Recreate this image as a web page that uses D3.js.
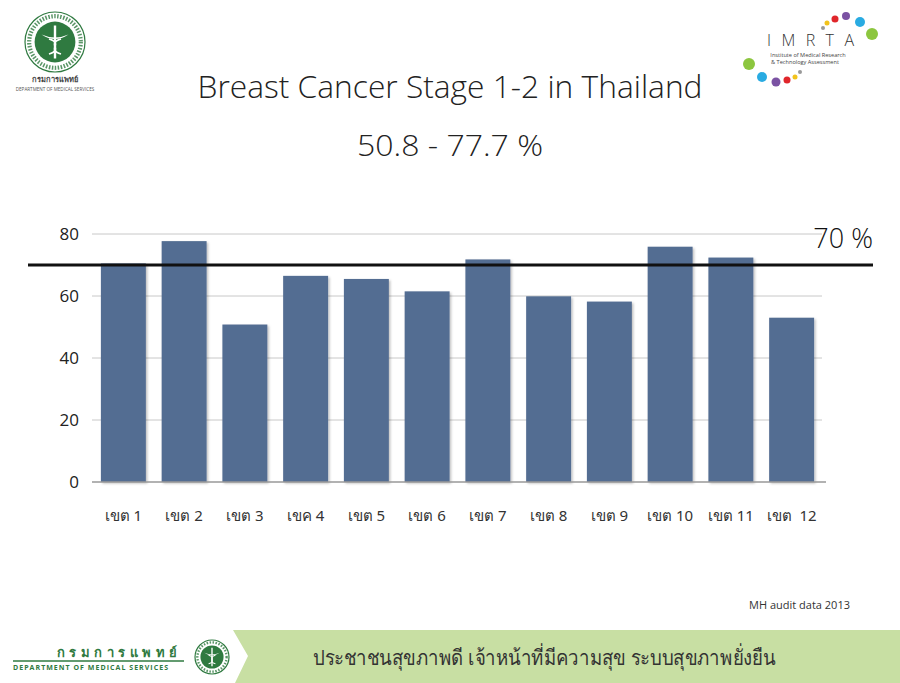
<!DOCTYPE html>
<html>
<head>
<meta charset="utf-8">
<script src="https://cdn.jsdelivr.net/npm/d3@7"></script>
<style>
  body { margin: 0; background: #fff; }
  svg { display: block; font-family: "Open Sans", "Noto Sans", sans-serif; }
  .thai { font-family: "Noto Sans", "DejaVu Sans", sans-serif; }
</style>
</head>
<body>
<svg id="chart" width="900" height="683"></svg>
<script>
// data
const regions = ["เขต 1", "เขต 2", "เขต 3", "เขค 4", "เขต 5", "เขต 6",
                 "เขต 7", "เขต 8", "เขต 9", "เขต 10", "เขต 11", "เขต  12"];
const stage12 = [70.5, 77.7, 50.8, 66.5, 65.5, 61.5, 71.8, 59.9, 58.2, 75.9, 72.4, 53.0];
const yTicks = [0, 20, 40, 60, 80];
const target = 70;

const title = "Breast Cancer Stage 1-2 in Thailand";
const subtitle = "50.8 - 77.7 %";
const footerText = "ประชาชนสุขภาพดี เจ้าหน้าที่มีความสุข ระบบสุขภาพยั่งยืน";

const svg = d3.select("#chart");

// scales
const x = d3.scaleBand().domain(regions).range([93, 822]).paddingInner(0.26).paddingOuter(0.13);
const y = d3.scaleLinear().domain([0, 80]).range([482, 234]);

// titles
svg.append("text").attr("x", 450).attr("y", 98).attr("text-anchor", "middle")
  .attr("font-size", 31.5).attr("font-weight", 300).attr("fill", "#222")
  .attr("textLength", 505).attr("lengthAdjust", "spacingAndGlyphs").text(title);
svg.append("text").attr("x", 450).attr("y", 156).attr("text-anchor", "middle")
  .attr("font-size", 30).attr("font-weight", 300).attr("fill", "#222")
  .attr("textLength", 186).attr("lengthAdjust", "spacingAndGlyphs").text(subtitle);

// gridlines
svg.append("g").selectAll("line").data(yTicks.filter(d => d > 0)).enter().append("line")
  .attr("x1", 92).attr("x2", 822)
  .attr("y1", d => y(d)).attr("y2", d => y(d))
  .attr("stroke", "#c8c8c8").attr("stroke-width", 1);

// y axis labels
svg.append("g").selectAll("text").data(yTicks).enter().append("text")
  .attr("x", 79).attr("y", d => y(d) + 6).attr("text-anchor", "end")
  .attr("font-size", 17).attr("fill", "#222").text(d => d);

// bars
const defs = svg.append("defs");
const shadow = defs.append("filter").attr("id", "shadow").attr("x", "-10%").attr("y", "-10%")
  .attr("width", "130%").attr("height", "130%");
shadow.append("feDropShadow").attr("dx", 1.5).attr("dy", 1.5).attr("stdDeviation", 1.2)
  .attr("flood-color", "#000").attr("flood-opacity", 0.25);

svg.append("g").selectAll("rect").data(stage12).enter().append("rect")
  .attr("x", (d, i) => x(regions[i]))
  .attr("y", d => y(d))
  .attr("width", x.bandwidth())
  .attr("height", d => y(0) - y(d))
  .attr("fill", "#536d92")
  .attr("filter", "url(#shadow)");

// baseline
svg.append("line").attr("x1", 92).attr("x2", 826).attr("y1", y(0)).attr("y2", y(0))
  .attr("stroke", "#999").attr("stroke-width", 1.5);

// category labels
svg.append("g").selectAll("text").data(regions).enter().append("text")
  .attr("class", "thai")
  .attr("x", d => x(d) + x.bandwidth() / 2).attr("y", 521)
  .attr("text-anchor", "middle").attr("font-size", 15).attr("fill", "#333")
  .style("white-space", "pre").text(d => d);

// 70% target line
svg.append("line").attr("x1", 28).attr("x2", 873).attr("y1", y(target)).attr("y2", y(target))
  .attr("stroke", "#111").attr("stroke-width", 3);
svg.append("text").attr("x", 873).attr("y", 248).attr("text-anchor", "end")
  .attr("font-size", 27).attr("font-weight", 300).attr("fill", "#111").text(target + " %");

// source note
svg.append("text").attr("x", 850).attr("y", 609).attr("text-anchor", "end")
  .attr("font-size", 11).attr("fill", "#333").text("MH audit data 2013");

// footer band
svg.append("path").attr("d", "M233,630 L900,630 L900,683 L235,683 L248,656 Z").attr("fill", "#c8dfa3");
svg.append("text").attr("class", "thai").attr("x", 544).attr("y", 665).attr("text-anchor", "middle")
  .attr("font-size", 21).attr("font-weight", 300).attr("fill", "#333")
  .attr("textLength", 462).attr("lengthAdjust", "spacingAndGlyphs").text(footerText);

// footer left logo
const green = "#2f7a40";
svg.append("text").attr("class", "thai").attr("x", 57).attr("y", 657)
  .attr("font-size", 13).attr("font-weight", 700).attr("fill", green)
  .attr("textLength", 120).text("กรมการแพทย์");
svg.append("line").attr("x1", 13).attr("x2", 184).attr("y1", 661).attr("y2", 661)
  .attr("stroke", green).attr("stroke-width", 1.6);
svg.append("text").attr("x", 13).attr("y", 670).attr("font-size", 7).attr("font-weight", 700)
  .attr("fill", green).attr("textLength", 155).text("DEPARTMENT OF MEDICAL SERVICES");

function seal(cx, cy, r) {
  const g = svg.append("g").attr("transform", `translate(${cx},${cy})`);
  g.append("circle").attr("r", r).attr("fill", "#fff").attr("stroke", green).attr("stroke-width", 1.2);
  g.append("circle").attr("r", r * 0.86).attr("fill", "none").attr("stroke", green)
    .attr("stroke-width", r * 0.14).attr("stroke-dasharray", "1.5 1.5").attr("opacity", 0.8);
  g.append("circle").attr("r", r * 0.68).attr("fill", green);
  // simple caduceus
  g.append("line").attr("x1", 0).attr("x2", 0).attr("y1", -r * 0.55).attr("y2", r * 0.55)
    .attr("stroke", "#fff").attr("stroke-width", r * 0.08);
  g.append("path").attr("d", `M${-r * 0.45},${-r * 0.25} Q0,${-r * 0.05} ${r * 0.45},${-r * 0.25} Q0,${r * 0.05} ${-r * 0.45},${-r * 0.25}`)
    .attr("fill", "#fff");
  g.append("path").attr("d", `M${-r * 0.2},${-r * 0.1} C${r * 0.3},${r * 0.05} ${-r * 0.3},${r * 0.25} ${r * 0.2},${r * 0.4}`)
    .attr("fill", "none").attr("stroke", "#fff").attr("stroke-width", r * 0.06);
  g.append("path").attr("d", `M${r * 0.2},${-r * 0.1} C${-r * 0.3},${r * 0.05} ${r * 0.3},${r * 0.25} ${-r * 0.2},${r * 0.4}`)
    .attr("fill", "none").attr("stroke", "#fff").attr("stroke-width", r * 0.06);
  return g;
}
seal(212, 657, 17);

// top-left logo
seal(55, 42, 30);
svg.append("text").attr("class", "thai").attr("x", 55).attr("y", 82).attr("text-anchor", "middle")
  .attr("font-size", 7.5).attr("font-weight", 700).attr("fill", "#444").text("กรมการแพทย์");
svg.append("text").attr("x", 55).attr("y", 91).attr("text-anchor", "middle")
  .attr("font-size", 4.6).attr("fill", "#555").text("DEPARTMENT OF MEDICAL SERVICES");

// IMRTA logo
const dots = [
  [749, 64, 6, "#8cc63f"], [762, 77, 5, "#29abe2"], [776, 82, 4.5, "#7b52a3"],
  [787, 80, 3.5, "#e0262b"], [795, 77, 2.5, "#f2c31b"], [800, 72, 2, "#999"],
  [823, 28, 2, "#999"], [827, 23, 2.5, "#f2c31b"], [835, 19, 3.5, "#e0262b"],
  [846, 16, 4, "#7b52a3"], [860, 22, 5, "#29abe2"], [872, 34, 6, "#8cc63f"]
];
svg.append("g").selectAll("circle").data(dots).enter().append("circle")
  .attr("cx", d => d[0]).attr("cy", d => d[1]).attr("r", d => d[2]).attr("fill", d => d[3]);
svg.append("text").attr("x", 767).attr("y", 46).attr("font-size", 16).attr("font-weight", 300)
  .attr("fill", "#333").attr("textLength", 87).text("IMRTA");
svg.append("text").attr("x", 808).attr("y", 57).attr("text-anchor", "middle")
  .attr("font-size", 5.6).attr("fill", "#444").text("Institute of Medical Research");
svg.append("text").attr("x", 805).attr("y", 64).attr("text-anchor", "middle")
  .attr("font-size", 5.6).attr("fill", "#444").text("& Technology Assessment");
</script>
</body>
</html>
